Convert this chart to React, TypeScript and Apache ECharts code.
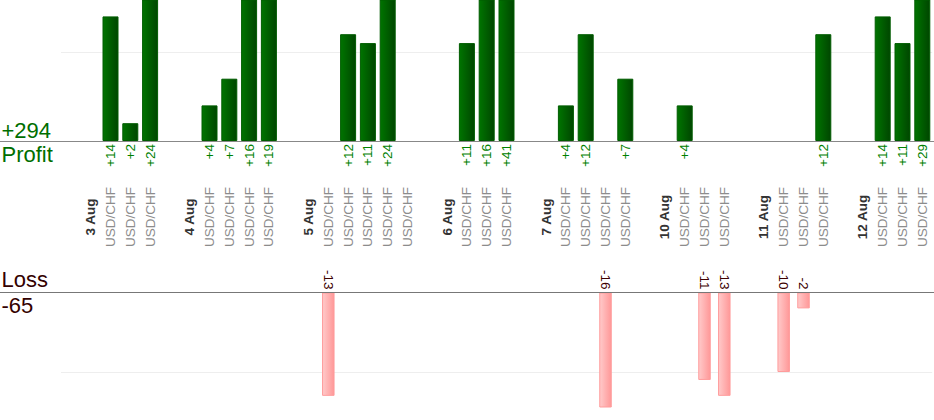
import React, { useEffect, useRef } from "react";
import * as echarts from "echarts";

const categories: string[] = [
  "",
  "3 Aug", "USD/CHF", "USD/CHF", "USD/CHF",
  "",
  "4 Aug", "USD/CHF", "USD/CHF", "USD/CHF", "USD/CHF",
  "",
  "5 Aug", "USD/CHF", "USD/CHF", "USD/CHF", "USD/CHF", "USD/CHF",
  "",
  "6 Aug", "USD/CHF", "USD/CHF", "USD/CHF",
  "",
  "7 Aug", "USD/CHF", "USD/CHF", "USD/CHF", "USD/CHF",
  "",
  "10 Aug", "USD/CHF", "USD/CHF", "USD/CHF",
  "",
  "11 Aug", "USD/CHF", "USD/CHF", "USD/CHF",
  "",
  "12 Aug", "USD/CHF", "USD/CHF", "USD/CHF",
];

const profit: (number | null)[] = [
  null,
  null, 14, 2, 24,
  null,
  null, 4, 7, 16, 19,
  null,
  null, null, 12, 11, 24, null,
  null,
  null, 11, 16, 41,
  null,
  null, 4, 12, null, 7,
  null,
  null, 4, null, null,
  null,
  null, null, null, 12,
  null,
  null, 14, 11, 29,
];

const loss: (number | null)[] = [
  null,
  null, null, null, null,
  null,
  null, null, null, null, null,
  null,
  null, 13, null, null, null, null,
  null,
  null, null, null, null,
  null,
  null, null, null, 16, null,
  null,
  null, null, 11, 13,
  null,
  null, 10, 2, null,
  null,
  null, null, null, null,
];

const FONT = "'Liberation Sans', Arial, Helvetica, sans-serif";

export default function App() {
  const ref = useRef<HTMLDivElement>(null);

  useEffect(() => {
    if (!ref.current) return;
    const chart = echarts.init(ref.current, undefined, { renderer: "svg" });

    const totalProfit = profit.reduce<number>((s, v) => s + (v || 0), 0);
    const totalLoss = loss.reduce<number>((s, v) => s + (v || 0), 0);

    const W = 934;
    const gridLeft = 61;
    const gridRight = 1.8;
    const profitAxisY = 141;
    const lossAxisY = 292.5;
    const lossBottom = 407;

    const option: any = {
      animation: false,
      backgroundColor: "#ffffff",
      textStyle: { fontFamily: FONT },
      grid: [
        {
          left: gridLeft,
          right: gridRight,
          top: 0,
          height: profitAxisY,
          outerBoundsMode: "none",
          containLabel: false,
        },
        {
          left: gridLeft,
          right: gridRight,
          top: lossAxisY,
          height: lossBottom - lossAxisY,
          outerBoundsMode: "none",
          containLabel: false,
        },
      ],
      xAxis: [
        {
          gridIndex: 0,
          type: "category",
          data: categories,
          position: "bottom",
          boundaryGap: true,
          axisLine: { show: false, onZero: false },
          axisTick: { show: false },
          splitLine: { show: false },
          axisLabel: {
            interval: 0,
            rotate: 90,
            margin: 3,
            fontFamily: FONT,
            fontSize: 13.5,
            color: "#008000",
            formatter: (_v: string, i: number) =>
              profit[i] ? "+" + profit[i] : "",
          },
        },
        {
          gridIndex: 0,
          type: "category",
          data: categories,
          position: "bottom",
          offset: 0,
          boundaryGap: true,
          axisLine: { show: false, onZero: false },
          axisTick: { show: false },
          splitLine: { show: false },
          axisLabel: {
            interval: 0,
            rotate: 90,
            margin: 76,
            align: "center",
            fontFamily: FONT,
            fontSize: 13.5,
            formatter: (v: string) => {
              if (!v) return "";
              if (v === "USD/CHF") return "{c|" + v + "}";
              return "{d|" + v + "}";
            },
            rich: {
              c: { color: "#8c8c8c", fontSize: 13.5, fontFamily: FONT },
              d: {
                color: "#333333",
                fontSize: 13.5,
                fontWeight: "bold",
                fontFamily: FONT,
              },
            },
          },
        },
        {
          gridIndex: 1,
          type: "category",
          data: categories,
          position: "top",
          boundaryGap: true,
          axisLine: { show: false, onZero: false },
          axisTick: { show: false },
          splitLine: { show: false },
          axisLabel: {
            interval: 0,
            rotate: 90,
            margin: 3,
            fontFamily: FONT,
            fontSize: 13.5,
            color: "#3d0000",
            formatter: (_v: string, i: number) =>
              loss[i] ? "-" + loss[i] : "",
          },
        },
      ],
      yAxis: [
        {
          gridIndex: 0,
          type: "value",
          min: 0,
          max: profitAxisY / 8.9,
          interval: 10,
          axisLine: { show: false },
          axisTick: { show: false },
          axisLabel: { show: false },
          splitLine: {
            show: true,
            showMinLine: false,
            showMaxLine: false,
            lineStyle: { color: "#eeeeee", width: 1 },
          },
        },
        {
          gridIndex: 1,
          type: "value",
          inverse: true,
          min: 0,
          max: (lossBottom - lossAxisY) / 7.95,
          interval: 10,
          axisLine: { show: false },
          axisTick: { show: false },
          axisLabel: { show: false },
          splitLine: {
            show: true,
            showMinLine: false,
            showMaxLine: false,
            lineStyle: { color: "#eeeeee", width: 1 },
          },
        },
      ],
      series: [
        {
          type: "bar",
          name: "Profit",
          xAxisIndex: 0,
          yAxisIndex: 0,
          data: profit,
          barWidth: 16,
          clip: true,
          itemStyle: {
            color: new echarts.graphic.LinearGradient(0, 0, 1, 0, [
              { offset: 0, color: "#007400" },
              { offset: 1, color: "#004600" },
            ]),
            borderColor: "#005c00",
            borderWidth: 1,
          },
        },
        {
          type: "bar",
          name: "Loss",
          xAxisIndex: 2,
          yAxisIndex: 1,
          data: loss,
          barWidth: 12.5,
          clip: true,
          itemStyle: {
            color: new echarts.graphic.LinearGradient(0, 0, 1, 0, [
              { offset: 0, color: "#ffcaca" },
              { offset: 1, color: "#ff9898" },
            ]),
            borderColor: "#ff9c9c",
            borderWidth: 1,
          },
        },
      ],
      graphic: [
        {
          type: "line",
          z: 100,
          shape: { x1: 0, y1: profitAxisY + 0.5, x2: W, y2: profitAxisY + 0.5 },
          style: { stroke: "#888888", lineWidth: 1 },
        },
        {
          type: "line",
          z: 100,
          shape: { x1: 0, y1: lossAxisY, x2: W, y2: lossAxisY },
          style: { stroke: "#777777", lineWidth: 1 },
        },
        {
          type: "text",
          x: 1.5,
          y: 130,
          style: {
            text: "+" + totalProfit,
            fontSize: 22,
            fontFamily: FONT,
            fill: "#006e00",
            align: "left",
            verticalAlign: "middle",
          },
        },
        {
          type: "text",
          x: 1.5,
          y: 154.7,
          style: {
            text: "Profit",
            fontSize: 22,
            fontFamily: FONT,
            fill: "#006e00",
            align: "left",
            verticalAlign: "middle",
          },
        },
        {
          type: "text",
          x: 1.5,
          y: 279.7,
          style: {
            text: "Loss",
            fontSize: 22,
            fontFamily: FONT,
            fill: "#330000",
            align: "left",
            verticalAlign: "middle",
          },
        },
        {
          type: "text",
          x: 1.5,
          y: 305.7,
          style: {
            text: "-" + totalLoss,
            fontSize: 22,
            fontFamily: FONT,
            fill: "#330000",
            align: "left",
            verticalAlign: "middle",
          },
        },
      ],
    };

    chart.setOption(option);
    return () => {
      chart.dispose();
    };
  }, []);

  return (
    <div
      ref={ref}
      style={{
        position: "fixed",
        left: 0,
        top: 0,
        width: 934,
        height: 420,
        background: "#ffffff",
      }}
    />
  );
}
